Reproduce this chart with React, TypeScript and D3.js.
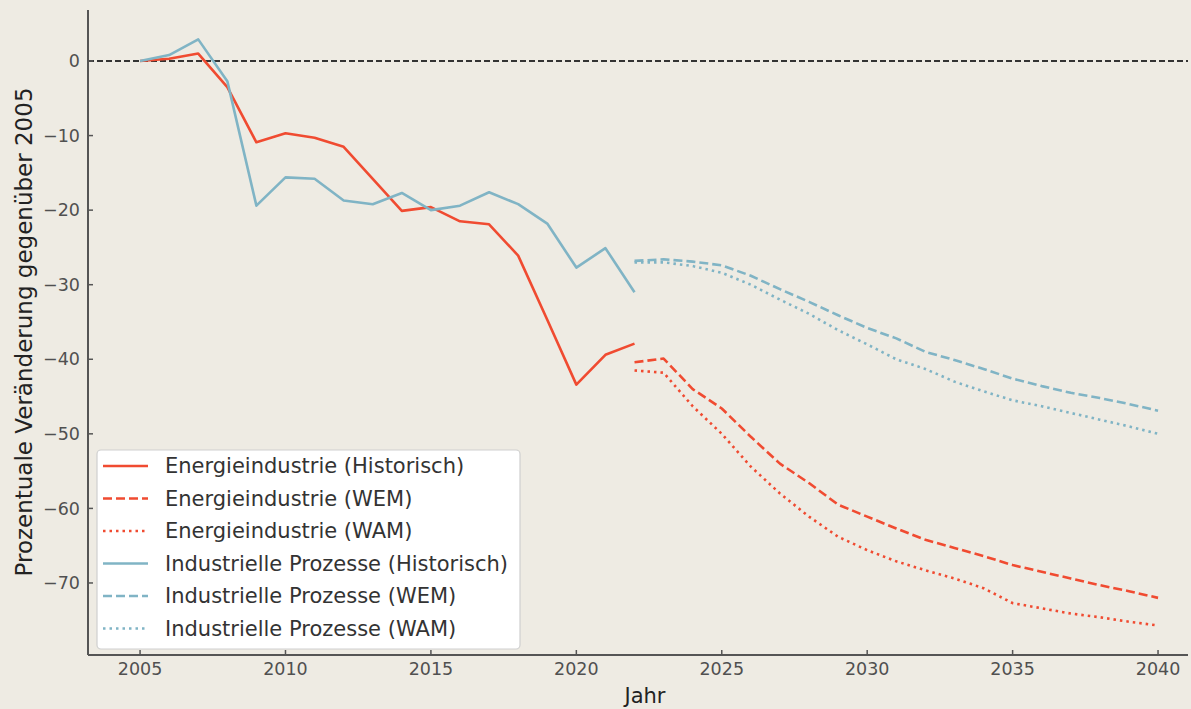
import React from "react";
import * as d3 from "d3";

const histYears = [2005, 2006, 2007, 2008, 2009, 2010, 2011, 2012, 2013, 2014, 2015, 2016, 2017, 2018, 2019, 2020, 2021, 2022];
const energyHist = [0, 0.3, 1.0, -3.5, -10.9, -9.7, -10.3, -11.5, -15.8, -20.1, -19.6, -21.5, -21.9, -26.1, -34.7, -43.4, -39.4, -37.9];
const industryHist = [0, 0.8, 2.9, -2.7, -19.4, -15.6, -15.8, -18.7, -19.2, -17.7, -20.0, -19.4, -17.6, -19.2, -21.8, -27.7, -25.1, -31.0];

const projYears = [2022, 2023, 2024, 2025, 2026, 2027, 2028, 2029, 2030, 2031, 2032, 2033, 2034, 2035, 2036, 2037, 2038, 2039, 2040];
const energyWEM = [-40.4, -39.9, -44.0, -46.6, -50.4, -54.0, -56.6, -59.5, -61.1, -62.7, -64.2, -65.3, -66.4, -67.6, -68.5, -69.4, -70.3, -71.1, -72.0];
const energyWAM = [-41.5, -41.8, -46.3, -50.0, -54.4, -58.0, -61.1, -63.8, -65.6, -67.1, -68.3, -69.4, -70.7, -72.7, -73.4, -74.1, -74.6, -75.2, -75.7];
const industryWEM = [-26.8, -26.6, -26.9, -27.4, -28.8, -30.6, -32.3, -34.1, -35.8, -37.2, -39.0, -40.1, -41.3, -42.6, -43.6, -44.5, -45.2, -46.0, -46.9];
const industryWAM = [-27.0, -27.0, -27.5, -28.4, -30.0, -32.0, -33.9, -36.1, -38.0, -40.0, -41.3, -43.0, -44.3, -45.5, -46.3, -47.2, -48.1, -49.0, -50.0];

const xTicks = [2005, 2010, 2015, 2020, 2025, 2030, 2035, 2040];
const yTicks = [0, -10, -20, -30, -40, -50, -60, -70];

const RED = "#f04b31";
const BLUE = "#80b4c5";
const BG = "#eeebe3";
const FONT = "DejaVu Sans, sans-serif";

type Series = { label: string; years: number[]; values: number[]; color: string; dash: string | undefined };

const series: Series[] = [
  { label: "Energieindustrie (Historisch)", years: histYears, values: energyHist, color: RED, dash: undefined },
  { label: "Energieindustrie (WEM)", years: projYears, values: energyWEM, color: RED, dash: "9,4" },
  { label: "Energieindustrie (WAM)", years: projYears, values: energyWAM, color: RED, dash: "2.5,4" },
  { label: "Industrielle Prozesse (Historisch)", years: histYears, values: industryHist, color: BLUE, dash: undefined },
  { label: "Industrielle Prozesse (WEM)", years: projYears, values: industryWEM, color: BLUE, dash: "9,4" },
  { label: "Industrielle Prozesse (WAM)", years: projYears, values: industryWAM, color: BLUE, dash: "2.5,4" },
];

export default function App() {
  const W = 1191;
  const H = 709;
  const left = 88, right = 1188, top = 10, bottom = 655;
  const x = d3.scaleLinear().domain([2003.21, 2041.03]).range([left, right]);
  const y = d3.scaleLinear().domain([-79.66, 6.84]).range([bottom, top]);
  const line = (years: number[], values: number[]) =>
    d3.line<number>().x((_, i) => x(years[i])).y((v) => y(v))(values) || "";

  const legX = 97, legY = 450, legW = 423, legH = 199;
  const rowH = 32.5;

  return (
    <div style={{ position: "fixed", left: 0, top: 0, width: W, height: H, background: BG, overflow: "hidden" }}>
      <svg width={W} height={H} style={{ display: "block", background: BG }}>
        <rect x={0} y={0} width={W} height={H} fill={BG} />
        <line x1={left} x2={right} y1={y(0)} y2={y(0)} stroke="#333" strokeWidth={2} strokeDasharray="6,3" />
        {series.map((s) => (
          <path key={s.label} d={line(s.years, s.values)} fill="none" stroke={s.color} strokeWidth={2.6}
            strokeDasharray={s.dash} strokeLinejoin="round" />
        ))}
        <line x1={left} x2={left} y1={top} y2={bottom} stroke="#555" strokeWidth={2} />
        <line x1={left} x2={right} y1={bottom} y2={bottom} stroke="#555" strokeWidth={2} />
        {xTicks.map((t) => (
          <g key={t}>
            <line x1={x(t)} x2={x(t)} y1={bottom} y2={bottom - 5} stroke="#555" strokeWidth={1.5} />
            <text x={x(t)} y={bottom + 20} textAnchor="middle" fontFamily={FONT} fontSize={17.5} fill="#505050">{t}</text>
          </g>
        ))}
        {yTicks.map((t) => (
          <g key={t}>
            <line x1={left} x2={left + 5} y1={y(t)} y2={y(t)} stroke="#555" strokeWidth={1.5} />
            <text x={left - 8} y={y(t)} dy="0.35em" textAnchor="end" fontFamily={FONT} fontSize={17.5} fill="#505050">
              {t === 0 ? "0" : "\u2212" + Math.abs(t)}
            </text>
          </g>
        ))}
        <text x={645} y={703} textAnchor="middle" fontFamily={FONT} fontSize={21} fill="#222">Jahr</text>
        <text transform={`translate(32,332) rotate(-90)`} textAnchor="middle" fontFamily={FONT} fontSize={23} fill="#222">
          Prozentuale Veränderung gegenüber 2005
        </text>
        <rect x={legX} y={legY} width={legW} height={legH} rx={4} fill="#ffffff" stroke="#cfcfcf" strokeWidth={1.2} />
        {series.map((s, i) => {
          const cy = legY + 16 + i * rowH;
          return (
            <g key={"leg" + s.label}>
              <line x1={legX + 6} x2={legX + 51} y1={cy} y2={cy} stroke={s.color} strokeWidth={2.6} strokeDasharray={s.dash} />
              <text x={legX + 68} y={cy} dy="0.35em" fontFamily={FONT} fontSize={21} fill="#333">{s.label}</text>
            </g>
          );
        })}
      </svg>
    </div>
  );
}
